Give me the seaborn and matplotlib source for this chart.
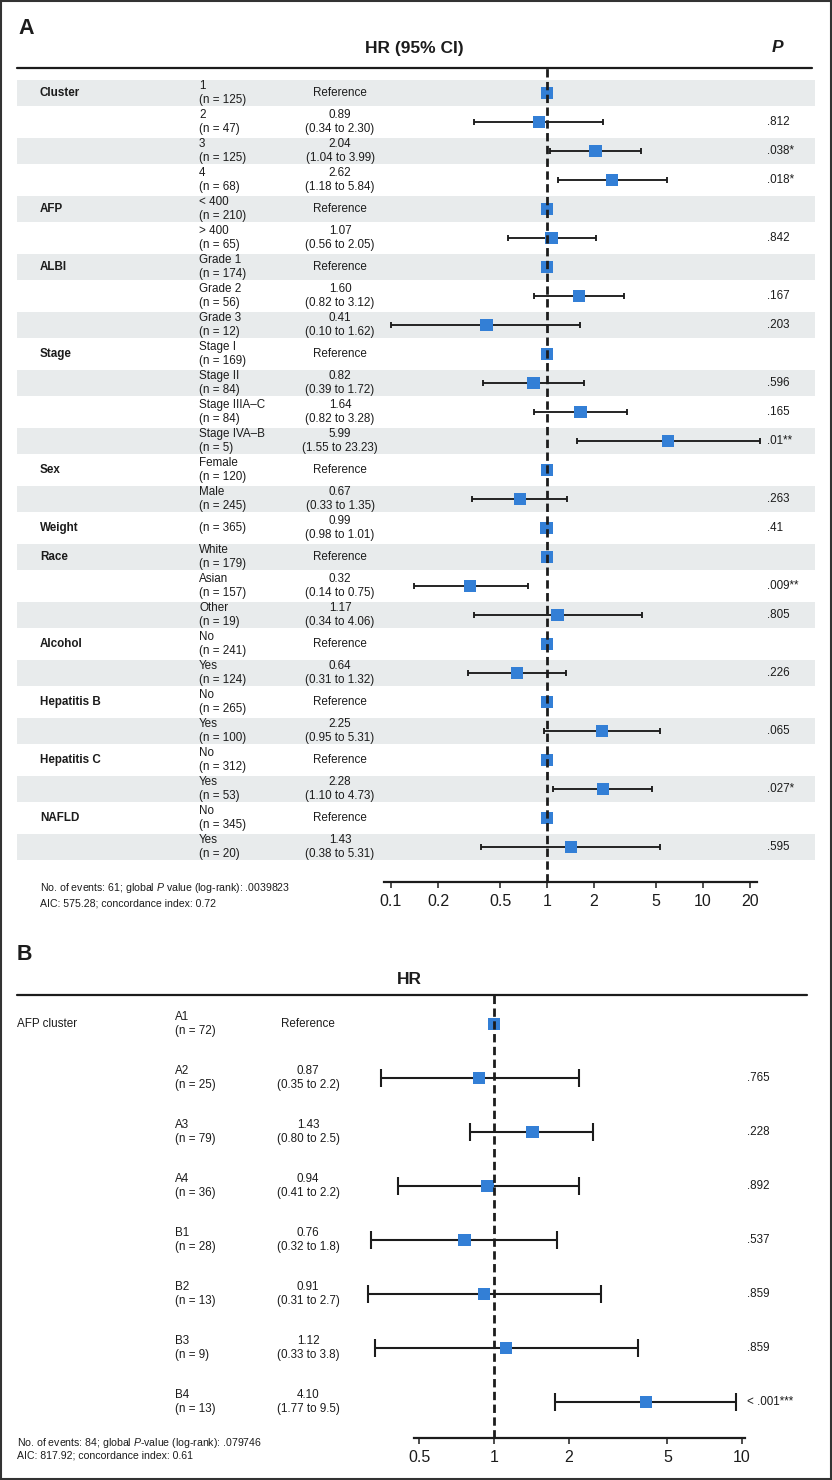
import numpy as np
import pandas as pd
import seaborn as sns
import matplotlib.pyplot as plt
import matplotlib.transforms as mtransforms
from matplotlib.patches import Rectangle
from matplotlib.ticker import NullLocator

nan = np.nan

# --- Panel A: multivariable Cox model --- #
var_a = ['Cluster', '', '', '', 'AFP', '', 'ALBI', '', '', 'Stage', '', '', '', 'Sex', '',
         'Weight', 'Race', '', '', 'Alcohol', '', 'Hepatitis B', '', 'Hepatitis C', '', 'NAFLD', '']
level_a = ['1', '2', '3', '4', '< 400', '> 400', 'Grade 1', 'Grade 2', 'Grade 3',
           'Stage I', 'Stage II', 'Stage IIIA\u2013C', 'Stage IVA\u2013B', 'Female', 'Male', '',
           'White', 'Asian', 'Other', 'No', 'Yes', 'No', 'Yes', 'No', 'Yes', 'No', 'Yes']
n_a = [125, 47, 125, 68, 210, 65, 174, 56, 12, 169, 84, 84, 5, 120, 245, 365,
       179, 157, 19, 241, 124, 265, 100, 312, 53, 345, 20]
hr_a = [1, 0.89, 2.04, 2.62, 1, 1.07, 1, 1.60, 0.41, 1, 0.82, 1.64, 5.99, 1, 0.67, 0.99,
        1, 0.32, 1.17, 1, 0.64, 1, 2.25, 1, 2.28, 1, 1.43]
lo_a = [nan, 0.34, 1.04, 1.18, nan, 0.56, nan, 0.82, 0.10, nan, 0.39, 0.82, 1.55, nan, 0.33, 0.98,
        nan, 0.14, 0.34, nan, 0.31, nan, 0.95, nan, 1.10, nan, 0.38]
hi_a = [nan, 2.30, 3.99, 5.84, nan, 2.05, nan, 3.12, 1.62, nan, 1.72, 3.28, 23.23, nan, 1.35, 1.01,
        nan, 0.75, 4.06, nan, 1.32, nan, 5.31, nan, 4.73, nan, 5.31]
p_a = ['', '.812', '.038*', '.018*', '', '.842', '', '.167', '.203', '', '.596', '.165', '.01**',
       '', '.263', '.41', '', '.009**', '.805', '', '.226', '', '.065', '', '.027*', '', '.595']
ticks_a = [0.1, 0.2, 0.5, 1, 2, 5, 10, 20]
tick_labels_a = ['0.1', '0.2', '0.5', '1', '2', '5', '10', '20']

# --- Panel B: AFP cluster model --- #
var_b = ['AFP cluster', '', '', '', '', '', '', '']
level_b = ['A1', 'A2', 'A3', 'A4', 'B1', 'B2', 'B3', 'B4']
n_b = [72, 25, 79, 36, 28, 13, 9, 13]
hr_b = [1, 0.87, 1.43, 0.94, 0.76, 0.91, 1.12, 4.10]
lo_b = [nan, 0.35, 0.80, 0.41, 0.32, 0.31, 0.33, 1.77]
hi_b = [nan, 2.2, 2.5, 2.2, 1.8, 2.7, 3.8, 9.5]
p_b = ['', '.765', '.228', '.892', '.537', '.859', '.859', '< .001***']
ticks_b = [0.5, 1, 2, 5, 10]
tick_labels_b = ['0.5', '1', '2', '5', '10']

df_a = pd.DataFrame({'var': var_a, 'level': level_a, 'n': n_a, 'hr': hr_a,
                     'lo': lo_a, 'hi': hi_a, 'p': p_a})
df_a['row'] = np.arange(len(df_a))
df_b = pd.DataFrame({'var': var_b, 'level': level_b, 'n': n_b, 'hr': hr_b,
                     'lo': lo_b, 'hi': hi_b, 'p': p_b})
df_b['row'] = np.arange(len(df_b))

sns.set_theme(style='white')
plt.rcParams['font.family'] = ['Liberation Sans', 'DejaVu Sans']
plt.rcParams['mathtext.fontset'] = 'custom'
plt.rcParams['mathtext.rm'] = 'Liberation Sans'
plt.rcParams['mathtext.it'] = 'Liberation Sans:italic'

BLUE = '#337fd6'
BAND = '#e8ebec'
INK = '#1c1c1c'
FS = 8.4

W, H = 832, 1480
fig = plt.figure(figsize=(W / 100, H / 100), dpi=100)
bg = fig.add_axes([0, 0, 1, 1])
bg.set_xlim(0, W)
bg.set_ylim(H, 0)
bg.axis('off')


def add_axes_px(x0, x1, y0, y1):
    return fig.add_axes([x0 / W, 1 - y1 / H, (x1 - x0) / W, (y1 - y0) / H])


def forest(ax, df, ticks, labels, xlim, ylim, lw, cap, dash_lw):
    ci = df.dropna(subset=['lo'])
    eb = ax.errorbar(ci['hr'], ci['row'], xerr=[ci['hr'] - ci['lo'], ci['hi'] - ci['hr']],
                     fmt='none', ecolor=INK, elinewidth=lw, capsize=cap, capthick=lw, zorder=1)
    for art in list(eb[1]) + list(eb[2]):
        art.set_clip_on(False)
    sns.scatterplot(data=df, x='hr', y='row', marker='s', s=80, color=BLUE,
                    edgecolor='none', linewidth=0, ax=ax, zorder=2, legend=False, clip_on=False)
    ax.axvline(1, color=INK, lw=dash_lw, ls=(0, (3.0, 1.6)), zorder=3)
    ax.set_xscale('log')
    ax.set_xlim(*xlim)
    ax.set_ylim(*ylim)
    ax.set_xticks(ticks)
    ax.set_xticklabels(labels)
    ax.xaxis.set_minor_locator(NullLocator())
    ax.set_yticks([])
    ax.set_xlabel('')
    ax.set_ylabel('')
    ax.patch.set_visible(False)
    for side in ['top', 'left', 'right']:
        ax.spines[side].set_visible(False)
    ax.spines['bottom'].set_linewidth(1.6)
    ax.spines['bottom'].set_color(INK)
    ax.tick_params(axis='x', bottom=True, direction='out', length=4, width=1.1,
                   color=INK, labelsize=11.5, labelcolor=INK, pad=5)


# ---------------- Panel A ---------------- #
axA = add_axes_px(384, 757, 68, 882)
forest(axA, df_a, ticks_a, tick_labels_a,
       (10 ** ((384 - 547) / 156), 10 ** ((757 - 547) / 156)),
       ((882 - 93) / 29, (68 - 93) / 29), 1.35, 2.5, 2.0)
trA = mtransforms.blended_transform_factory(bg.transData, axA.transData)

for _, r in df_a.iterrows():
    if r['row'] % 2 == 0:
        axA.add_patch(Rectangle((17, r['row'] - 0.45), 798, 0.9, transform=trA,
                                facecolor=BAND, edgecolor='none', zorder=0, clip_on=False))
    if r['var']:
        axA.text(40, r['row'], r['var'], transform=trA, fontsize=FS, fontweight='bold',
                 color=INK, va='center', ha='left')
    lvl = f"{r['level']}\n(n = {r['n']})" if r['level'] else f"(n = {r['n']})"
    axA.text(199, r['row'], lvl, transform=trA, fontsize=FS, color=INK,
             va='center', ha='left', linespacing=1.12)
    if np.isnan(r['lo']):
        hr_txt = 'Reference'
    else:
        hr_txt = f"{r['hr']:.2f}\n({r['lo']:.2f} to {r['hi']:.2f})"
    axA.text(340, r['row'], hr_txt, transform=trA, fontsize=FS, color=INK,
             va='center', ha='center', linespacing=1.12)
    if r['p']:
        axA.text(767, r['row'], r['p'], transform=trA, fontsize=FS, color=INK,
                 va='center', ha='left')

bg.text(18, 29, 'A', fontsize=15.5, fontweight='bold', color=INK, va='center', ha='left')
bg.text(414, 48, 'HR (95% CI)', fontsize=12.5, fontweight='bold', color=INK,
        va='center', ha='center')
bg.text(778, 48, 'P', fontsize=12.5, fontweight='bold', fontstyle='italic', color=INK,
        va='center', ha='center')
bg.plot([17, 812], [68, 68], color=INK, lw=1.6)
bg.text(40, 888, r'No. of events: 61; global $P$ value (log-rank): .0039823',
        fontsize=7.6, color=INK, va='center', ha='left')
bg.text(40, 903, 'AIC: 575.28; concordance index: 0.72',
        fontsize=7.6, color=INK, va='center', ha='left')

# ---------------- Panel B ---------------- #
axB = add_axes_px(414, 745, 995, 1438)
forest(axB, df_b, ticks_b, tick_labels_b,
       (10 ** ((414 - 494) / 248), 10 ** ((745 - 494) / 248)),
       ((1438 - 1024) / 54, (995 - 1024) / 54), 1.5, 6.5, 2.0)
trB = mtransforms.blended_transform_factory(bg.transData, axB.transData)

for _, r in df_b.iterrows():
    if r['var']:
        axB.text(17, r['row'], r['var'], transform=trB, fontsize=FS, color=INK,
                 va='center', ha='left')
    axB.text(175, r['row'], f"{r['level']}\n(n = {r['n']})", transform=trB, fontsize=FS,
             color=INK, va='center', ha='left', linespacing=1.2)
    if np.isnan(r['lo']):
        hr_txt = 'Reference'
    else:
        hr_txt = f"{r['hr']:.2f}\n({r['lo']:.2f} to {r['hi']:g})"
    axB.text(308, r['row'], hr_txt, transform=trB, fontsize=FS, color=INK,
             va='center', ha='center', linespacing=1.2)
    if r['p']:
        axB.text(747, r['row'], r['p'], transform=trB, fontsize=FS, color=INK,
                 va='center', ha='left')

bg.text(17, 955, 'B', fontsize=15.5, fontweight='bold', color=INK, va='center', ha='left')
bg.text(409, 979, 'HR', fontsize=12.5, fontweight='bold', color=INK, va='center', ha='center')
bg.plot([17, 807], [995, 995], color=INK, lw=1.6)
bg.text(17, 1443, r'No. of events: 84; global $P$-value (log-rank): .079746',
        fontsize=7.6, color=INK, va='center', ha='left')
bg.text(17, 1456, 'AIC: 817.92; concordance index: 0.61',
        fontsize=7.6, color=INK, va='center', ha='left')

# outer frame
bg.add_patch(Rectangle((1, 1), W - 2, H - 2, fill=False, edgecolor='#333333', lw=1.5))

fig.savefig('out.png', dpi=100)
